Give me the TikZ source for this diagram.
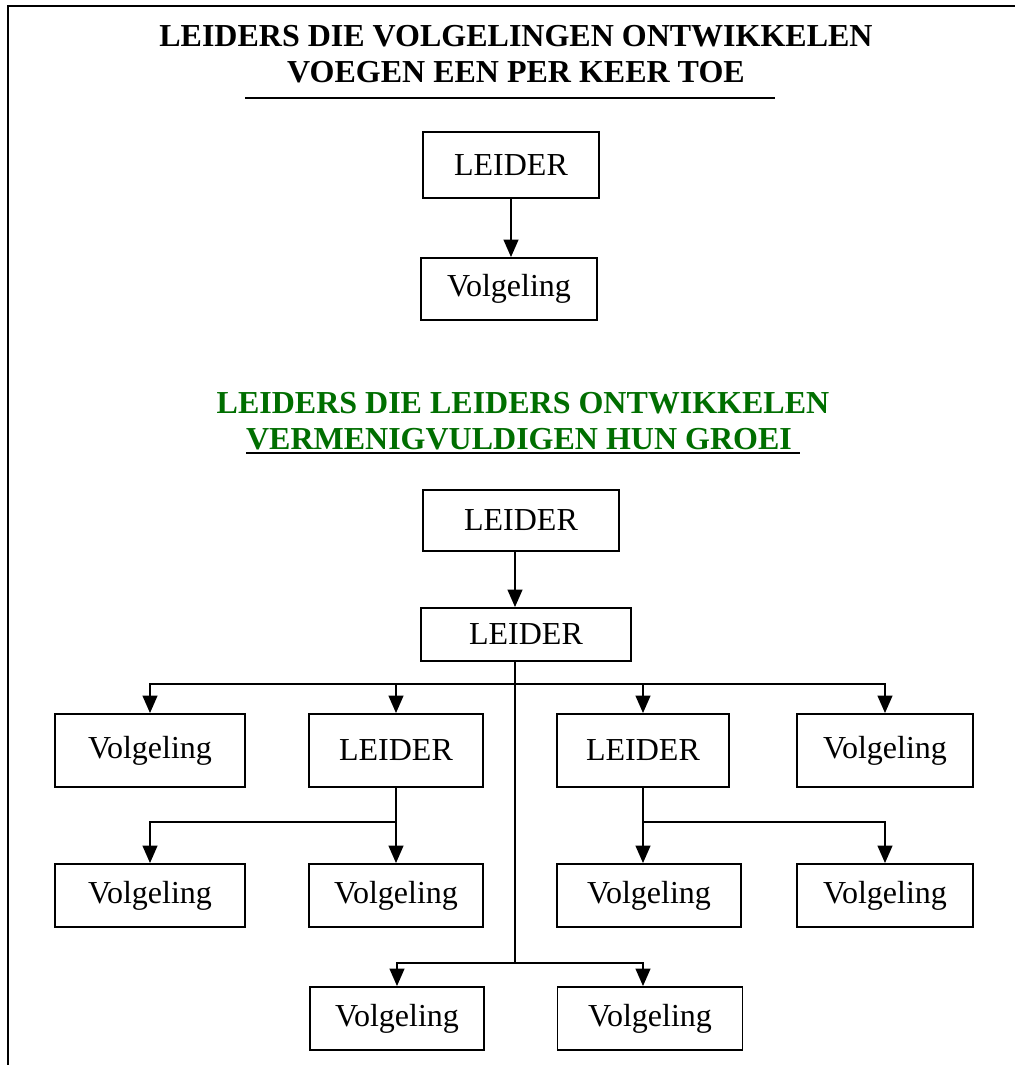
\documentclass[tikz,border=0pt]{standalone}
\usepackage{fontspec}
\setmainfont{Liberation Serif}
\usepackage{xcolor}
\usetikzlibrary{arrows.meta}
\definecolor{titlegreen}{RGB}{0,110,0}
\newcommand{\thickul}[1]{\leavevmode\vtop{\hbox{#1}\kern1.4pt\hrule height 1.5pt}}
\tikzset{
leader box/.style = { rectangle, draw = black, fill = white, line width = 1.4pt, inner sep = 0pt, font = \fontsize{24}{28}\selectfont },
heading/.style = { align = center, inner sep = 0pt, font = \fontsize{24}{27}\selectfont\bfseries },
link/.style = { line width = 1.4pt, -{Triangle[length = 13pt, width = 11pt]} },
trunk/.style = { line width = 1.4pt },
}

\begin{document}
\begin{tikzpicture}[x=0.75pt, y=-0.75pt]
      \useasboundingbox (0,0) rectangle (1015,1065);
      % frame
      \draw[line width = 1.6pt] (8,1065) -- (8,6) -- (1015,6);
      % part one
      \node[heading] (head1) at (516,54) {LEIDERS DIE VOLGELINGEN ONTWIKKELEN\\VOEGEN EEN PER KEER TOE};
      \draw[line width = 1.6pt] (245,98) -- (775,98);
      \node[leader box, minimum width = 132pt, minimum height = 49.5pt] (l0) at (511,165) {LEIDER};
      \node[leader box, minimum width = 132pt, minimum height = 46.5pt] (f0) at (509,289) {Volgeling};
      \draw[link] (l0.south) -- (l0.south |- f0.north);
      % part two
      \node[heading] (head2) at (523,423) {\textcolor{titlegreen}{LEIDERS DIE LEIDERS ONTWIKKELEN}\\\thickul{\textcolor{titlegreen}{VERMENIGVULDIGEN HUN GROEI}\ }};
      \begin{scope}[every node/.style={leader box}]
        \node[minimum width = 147pt, minimum height = 45.75pt] (l1) at (521,520.5) {LEIDER};
        \node[minimum width = 157.5pt, minimum height = 39.75pt] (l2) at (526,634.5) {LEIDER};
        % first row
        \node[minimum width = 142.5pt, minimum height = 54.75pt] (fa) at (150,750.5) {Volgeling};
        \node[minimum width = 130.5pt, minimum height = 54.75pt] (lb) at (396,750.5) {LEIDER};
        \node[minimum width = 129pt, minimum height = 54.75pt] (lc) at (643,750.5) {LEIDER};
        \node[minimum width = 132pt, minimum height = 54.75pt] (fd) at (885,750.5) {Volgeling};
        % second row
        \node[minimum width = 142.5pt, minimum height = 47.25pt] (fe) at (150,895.5) {Volgeling};
        \node[minimum width = 130.5pt, minimum height = 47.25pt] (ff) at (396,895.5) {Volgeling};
        \node[minimum width = 138pt, minimum height = 47.25pt] (fg) at (649,895.5) {Volgeling};
        \node[minimum width = 132pt, minimum height = 47.25pt] (fh) at (885,895.5) {Volgeling};
        % third row
        \node[minimum width = 130.5pt, minimum height = 47.25pt] (fi) at (397,1018.5) {Volgeling};
        \node[minimum width = 138.75pt, minimum height = 47.25pt] (fj) at (650,1018.5) {Volgeling};
      \end{scope}
      \coordinate (bus1) at (515,684);
      \coordinate (bus3) at (515,963);
      \draw[link] (l1.south -| bus1) -- (l2.north -| bus1);
      \draw[trunk] (l2.south -| bus1) -- (bus3);
      \draw[link] (bus1) -| (fa.north);
      \draw[link] (bus1) -| (lb.north);
      \draw[link] (bus1) -| (lc.north);
      \draw[link] (bus1) -| (fd.north);
      \draw[link] (lb.south) -- (ff.north);
      \draw[link] (lb.south) -- ++(0,34) -| (fe.north);
      \draw[link] (lc.south) -- (lc.south |- fg.north);
      \draw[link] (lc.south) -- ++(0,34) -| (fh.north);
      \draw[link] (bus3) -| (fi.north);
      \draw[link] (bus3) -| (fj.north -| lc.south);
    \end{tikzpicture}
\end{document}
